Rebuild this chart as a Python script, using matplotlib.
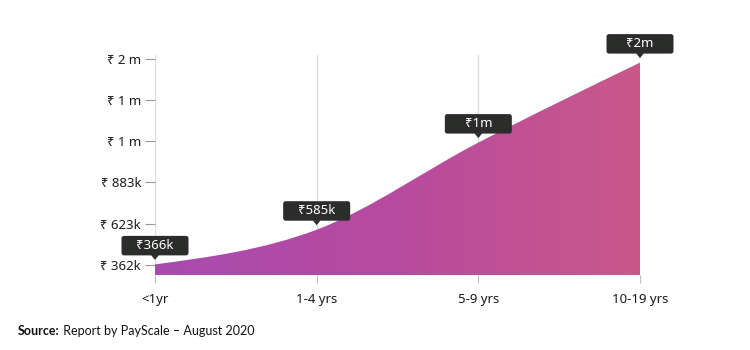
import numpy as np
import matplotlib
matplotlib.use("Agg")
import matplotlib.pyplot as plt
from matplotlib.path import Path
from matplotlib.patches import PathPatch, FancyBboxPatch, Polygon
from matplotlib.colors import LinearSegmentedColormap
from matplotlib import transforms

# Dados
categorias = ["<1yr", "1-4 yrs", "5-9 yrs", "10-19 yrs"]
salarios = [366000, 585000, 1135000, 1640000]
rotulos = ["₹366k", "₹585k", "₹1m", "₹2m"]
y_ticks = [362000, 622600, 883200, 1143800, 1404400, 1665000]

plt.rcParams['font.family'] = ['Noto Sans', 'DejaVu Sans']

def fmt_rupia(v):
    if v >= 1e6:
        return f"₹ {v / 1e6:.0f} m"
    return f"₹ {v / 1e3:.0f}k"

# Curva monotona (estilo d3 monotoneX) em Bezier
def caminho_monotono(xs, ys, base):
    n = len(xs)
    h = np.diff(xs)
    s = np.diff(ys) / h
    m = np.zeros(n)
    for i in range(1, n - 1):
        p = (s[i - 1] * h[i] + s[i] * h[i - 1]) / (h[i - 1] + h[i])
        m[i] = (np.sign(s[i - 1]) + np.sign(s[i])) * min(abs(s[i - 1]), abs(s[i]), 0.5 * abs(p))
    m[0] = (3 * s[0] - m[1]) / 2
    m[-1] = (3 * s[-1] - m[-2]) / 2
    verts = [(xs[0], base), (xs[0], ys[0])]
    codes = [Path.MOVETO, Path.LINETO]
    for i in range(n - 1):
        d = h[i] / 3
        verts += [(xs[i] + d, ys[i] + m[i] * d),
                  (xs[i + 1] - d, ys[i + 1] - m[i + 1] * d),
                  (xs[i + 1], ys[i + 1])]
        codes += [Path.CURVE4] * 3
    verts += [(xs[-1], base), (xs[0], base)]
    codes += [Path.LINETO, Path.CLOSEPOLY]
    return Path(verts, codes)

fig = plt.figure(figsize=(7.5, 3.5), dpi=100)
ax = fig.add_axes([155 / 750, 75 / 350, 485 / 750, 220 / 350])

x = np.arange(len(categorias))
ymin, ymax = 299000, 1688000
ax.set_xlim(0, len(categorias) - 1)
ax.set_ylim(ymin, ymax)
ax.set_axisbelow(True)

# Area com gradiente
path = caminho_monotono(x.astype(float), np.array(salarios, dtype=float), ymin)
patch = PathPatch(path, facecolor='none', edgecolor='none')
ax.add_patch(patch)
cmap = LinearSegmentedColormap.from_list('grad', ['#a84cb0', '#b84a9e', '#c9598a'])
grad = np.linspace(0, 1, 256).reshape(1, -1)
img = ax.imshow(grad, cmap=cmap, aspect='auto', extent=[0, len(categorias) - 1, ymin, ymax],
                origin='lower', zorder=1)
img.set_clip_path(patch)

# Grade vertical
ax.grid(True, axis='x', color='#dddddd', linewidth=1)
ax.grid(False, axis='y')
for sp in ax.spines.values():
    sp.set_visible(False)

ax.set_xticks(x)
ax.set_xticklabels(categorias)
ax.set_yticks(y_ticks)
ax.set_yticklabels([fmt_rupia(v) for v in y_ticks])
ax.tick_params(axis='x', length=6, color='#bbbbbb', pad=7, labelsize=9.5, labelcolor='#1a1a1a')
ax.tick_params(axis='y', length=7, color='#999999', pad=3, labelsize=9.5, labelcolor='#1a1a1a')

# Rotulos (caixas escuras com seta)
for xi, yi, txt in zip(x, salarios, rotulos):
    tr = fig.dpi_scale_trans + transforms.ScaledTranslation(xi, yi, ax.transData)
    caixa = FancyBboxPatch((-0.335, 0.09), 0.67, 0.195,
                           boxstyle='round,pad=0,rounding_size=0.025',
                           facecolor='#2b2d2b', edgecolor='none', transform=tr, zorder=5,
                           clip_on=False)
    fig.add_artist(caixa)
    seta = Polygon([(-0.04, 0.095), (0.04, 0.095), (0, 0.045)], closed=True,
                   facecolor='#2b2d2b', edgecolor='none', transform=tr, zorder=5)
    fig.add_artist(seta)
    fig.text(0, 0.1875, txt, transform=tr, ha='center', va='center', color='white',
             fontsize=9.5, zorder=6)

# Fonte
t1 = fig.text(18 / 750, 13 / 350, "Source:", fontsize=9, fontweight='bold',
              family=['Lato', 'DejaVu Sans'], color='#111111', va='bottom')
ax.annotate(" Report by PayScale – August 2020", xy=(1, 0), xycoords=t1, va='bottom',
            ha='left', fontsize=9, family=['Lato', 'DejaVu Sans'], color='#111111',
            annotation_clip=False)

plt.savefig('out.png', dpi=100)
plt.close()
